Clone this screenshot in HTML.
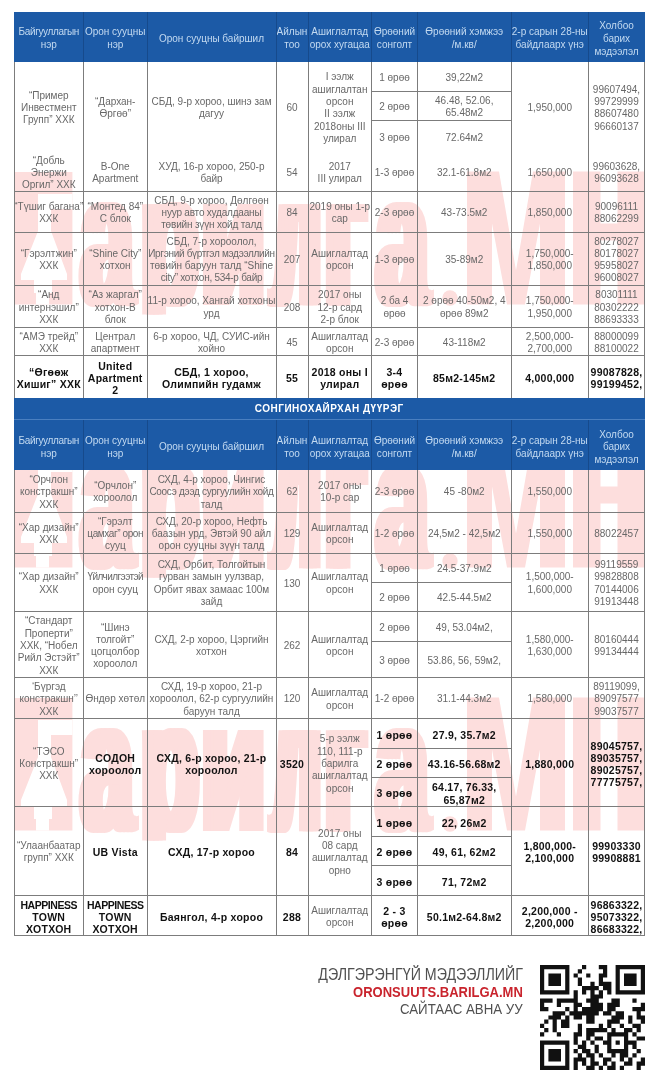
<!DOCTYPE html>
<html><head><meta charset="utf-8"><title>t</title><style>
html,body{margin:0;padding:0;background:#fff}
body{width:657px;height:1080px;position:relative;overflow:hidden;font-family:"Liberation Sans",sans-serif}
.c{filter:blur(0.3px);position:absolute;display:flex;align-items:center;justify-content:center;text-align:center;font-size:10px;line-height:12.3px;color:#686868;white-space:nowrap;box-sizing:border-box}
.c.b{font-weight:bold;color:#111;font-size:10.5px;letter-spacing:0.25px}
.c.h{color:#c3daf1;font-size:10px;line-height:12.7px}
.c.sec{color:#fff;font-weight:bold;font-size:10px;letter-spacing:0.5px}
.c i{font-style:normal}
.hb{position:absolute;background:#1c5aa6}
.hl{position:absolute;height:1px}
.vl{position:absolute;width:1px}
.wm{position:absolute;left:0;top:0}
.wm text{font-family:"Liberation Sans",sans-serif;font-weight:bold;fill:#fddedd}
.ft{position:absolute;right:134px;text-align:right;white-space:nowrap;color:#505050;transform-origin:right center}
</style></head><body>
<svg class="wm" width="657" height="1080" viewBox="0 0 657 1080"><clipPath id="wc526"><rect x="0" y="167.5" width="657" height="147.0"/></clipPath><g clip-path="url(#wc526)"><rect x="14.4" y="172.0" width="58" height="132.5" fill="#fddedd"/><polygon fill="#fff" points="38,194 72.4,194 72.4,209 51,209 51,231 67,274 67,280 52,280 52,293 49,293 49,304.5 36,304.5 36,293 34,293 34,280 21,280 21,274 38,231"/><text transform="translate(75.81,304.5) scale(0.4862,1)" font-size="191">а</text><text transform="translate(79.47,304.5) scale(0.4862,1)" font-size="191">а</text><text transform="translate(83.14,304.5) scale(0.4862,1)" font-size="191">а</text><text transform="translate(86.81,304.5) scale(0.4862,1)" font-size="191">а</text><text transform="translate(135.85,304.5) scale(0.4882,1)" font-size="191">р</text><text transform="translate(139.51,304.5) scale(0.4882,1)" font-size="191">р</text><text transform="translate(143.18,304.5) scale(0.4882,1)" font-size="191">р</text><text transform="translate(146.85,304.5) scale(0.4882,1)" font-size="191">р</text><text transform="translate(195.82,304.5) scale(0.5445,1)" font-size="191">и</text><text transform="translate(199.49,304.5) scale(0.5445,1)" font-size="191">и</text><text transform="translate(203.16,304.5) scale(0.5445,1)" font-size="191">и</text><text transform="translate(206.82,304.5) scale(0.5445,1)" font-size="191">и</text><text transform="translate(266.23,304.5) scale(0.4009,1)" font-size="191">л</text><text transform="translate(269.90,304.5) scale(0.4009,1)" font-size="191">л</text><text transform="translate(273.57,304.5) scale(0.4009,1)" font-size="191">л</text><text transform="translate(277.23,304.5) scale(0.4009,1)" font-size="191">л</text><text transform="translate(319.11,304.5) scale(0.5154,1)" font-size="191">г</text><text transform="translate(322.78,304.5) scale(0.5154,1)" font-size="191">г</text><text transform="translate(326.44,304.5) scale(0.5154,1)" font-size="191">г</text><text transform="translate(330.11,304.5) scale(0.5154,1)" font-size="191">г</text><text transform="translate(371.33,304.5) scale(0.4813,1)" font-size="191">а</text><text transform="translate(375.00,304.5) scale(0.4813,1)" font-size="191">а</text><text transform="translate(378.67,304.5) scale(0.4813,1)" font-size="191">а</text><text transform="translate(382.33,304.5) scale(0.4813,1)" font-size="191">а</text><circle cx="450" cy="298" r="7.7" fill="#fddedd"/><polygon fill="#fddedd" points="467,171.5 499,171.5 516,270.5 533,171.5 565,171.5 565,304.5 540,304.5 540,223.5 525,304.5 507,304.5 492,223.5 492,304.5 467,304.5"/><rect x="573" y="171.5" width="27.5" height="133.0" fill="#fddedd"/><rect x="617.5" y="171.5" width="27.5" height="133.0" fill="#fddedd"/><rect x="573" y="223.5" width="72" height="17" fill="#fddedd"/></g><clipPath id="wc263"><rect x="0" y="430.5" width="657" height="147.0"/></clipPath><g clip-path="url(#wc263)"><rect x="14.4" y="435.0" width="58" height="132.5" fill="#fddedd"/><polygon fill="#fff" points="38,457 72.4,457 72.4,472 51,472 51,494 67,537 67,543 52,543 52,556 49,556 49,567.5 36,567.5 36,556 34,556 34,543 21,543 21,537 38,494"/><text transform="translate(75.81,567.5) scale(0.4862,1)" font-size="191">а</text><text transform="translate(79.47,567.5) scale(0.4862,1)" font-size="191">а</text><text transform="translate(83.14,567.5) scale(0.4862,1)" font-size="191">а</text><text transform="translate(86.81,567.5) scale(0.4862,1)" font-size="191">а</text><text transform="translate(135.85,567.5) scale(0.4882,1)" font-size="191">р</text><text transform="translate(139.51,567.5) scale(0.4882,1)" font-size="191">р</text><text transform="translate(143.18,567.5) scale(0.4882,1)" font-size="191">р</text><text transform="translate(146.85,567.5) scale(0.4882,1)" font-size="191">р</text><text transform="translate(195.82,567.5) scale(0.5445,1)" font-size="191">и</text><text transform="translate(199.49,567.5) scale(0.5445,1)" font-size="191">и</text><text transform="translate(203.16,567.5) scale(0.5445,1)" font-size="191">и</text><text transform="translate(206.82,567.5) scale(0.5445,1)" font-size="191">и</text><text transform="translate(266.23,567.5) scale(0.4009,1)" font-size="191">л</text><text transform="translate(269.90,567.5) scale(0.4009,1)" font-size="191">л</text><text transform="translate(273.57,567.5) scale(0.4009,1)" font-size="191">л</text><text transform="translate(277.23,567.5) scale(0.4009,1)" font-size="191">л</text><text transform="translate(319.11,567.5) scale(0.5154,1)" font-size="191">г</text><text transform="translate(322.78,567.5) scale(0.5154,1)" font-size="191">г</text><text transform="translate(326.44,567.5) scale(0.5154,1)" font-size="191">г</text><text transform="translate(330.11,567.5) scale(0.5154,1)" font-size="191">г</text><text transform="translate(371.33,567.5) scale(0.4813,1)" font-size="191">а</text><text transform="translate(375.00,567.5) scale(0.4813,1)" font-size="191">а</text><text transform="translate(378.67,567.5) scale(0.4813,1)" font-size="191">а</text><text transform="translate(382.33,567.5) scale(0.4813,1)" font-size="191">а</text><circle cx="450" cy="561" r="7.7" fill="#fddedd"/><polygon fill="#fddedd" points="467,434.5 499,434.5 516,533.5 533,434.5 565,434.5 565,567.5 540,567.5 540,486.5 525,567.5 507,567.5 492,486.5 492,567.5 467,567.5"/><rect x="573" y="434.5" width="27.5" height="133.0" fill="#fddedd"/><rect x="617.5" y="434.5" width="27.5" height="133.0" fill="#fddedd"/><rect x="573" y="486.5" width="72" height="17" fill="#fddedd"/></g><clipPath id="wc0"><rect x="0" y="693.5" width="657" height="147.0"/></clipPath><g clip-path="url(#wc0)"><rect x="14.4" y="698.0" width="58" height="132.5" fill="#fddedd"/><polygon fill="#fff" points="38,720 72.4,720 72.4,735 51,735 51,757 67,800 67,806 52,806 52,819 49,819 49,830.5 36,830.5 36,819 34,819 34,806 21,806 21,800 38,757"/><text transform="translate(75.81,830.5) scale(0.4862,1)" font-size="191">а</text><text transform="translate(79.47,830.5) scale(0.4862,1)" font-size="191">а</text><text transform="translate(83.14,830.5) scale(0.4862,1)" font-size="191">а</text><text transform="translate(86.81,830.5) scale(0.4862,1)" font-size="191">а</text><text transform="translate(135.85,830.5) scale(0.4882,1)" font-size="191">р</text><text transform="translate(139.51,830.5) scale(0.4882,1)" font-size="191">р</text><text transform="translate(143.18,830.5) scale(0.4882,1)" font-size="191">р</text><text transform="translate(146.85,830.5) scale(0.4882,1)" font-size="191">р</text><text transform="translate(195.82,830.5) scale(0.5445,1)" font-size="191">и</text><text transform="translate(199.49,830.5) scale(0.5445,1)" font-size="191">и</text><text transform="translate(203.16,830.5) scale(0.5445,1)" font-size="191">и</text><text transform="translate(206.82,830.5) scale(0.5445,1)" font-size="191">и</text><text transform="translate(266.23,830.5) scale(0.4009,1)" font-size="191">л</text><text transform="translate(269.90,830.5) scale(0.4009,1)" font-size="191">л</text><text transform="translate(273.57,830.5) scale(0.4009,1)" font-size="191">л</text><text transform="translate(277.23,830.5) scale(0.4009,1)" font-size="191">л</text><text transform="translate(319.11,830.5) scale(0.5154,1)" font-size="191">г</text><text transform="translate(322.78,830.5) scale(0.5154,1)" font-size="191">г</text><text transform="translate(326.44,830.5) scale(0.5154,1)" font-size="191">г</text><text transform="translate(330.11,830.5) scale(0.5154,1)" font-size="191">г</text><text transform="translate(371.33,830.5) scale(0.4813,1)" font-size="191">а</text><text transform="translate(375.00,830.5) scale(0.4813,1)" font-size="191">а</text><text transform="translate(378.67,830.5) scale(0.4813,1)" font-size="191">а</text><text transform="translate(382.33,830.5) scale(0.4813,1)" font-size="191">а</text><circle cx="450" cy="824" r="7.7" fill="#fddedd"/><polygon fill="#fddedd" points="467,697.5 499,697.5 516,796.5 533,697.5 565,697.5 565,830.5 540,830.5 540,749.5 525,830.5 507,830.5 492,749.5 492,830.5 467,830.5"/><rect x="573" y="697.5" width="27.5" height="133.0" fill="#fddedd"/><rect x="617.5" y="697.5" width="27.5" height="133.0" fill="#fddedd"/><rect x="573" y="749.5" width="72" height="17" fill="#fddedd"/></g></svg>
<!--WMCLIP-->
<div class="hb" style="left:14px;top:11.5px;width:630.5px;height:50.0px"></div><div class="c h" style="left:14px;top:14.2px;width:69.5px;height:50.0px"><span><i style="letter-spacing:-0.35px">Байгууллагын</i><br>нэр</span></div><div class="c h" style="left:83.5px;top:14.2px;width:63.5px;height:50.0px"><span>Орон сууцны<br>нэр</span></div><div class="c h" style="left:147px;top:14.2px;width:129px;height:50.0px"><span>Орон сууцны байршил</span></div><div class="c h" style="left:276px;top:14.2px;width:32px;height:50.0px"><span>Айлын<br>тоо</span></div><div class="c h" style="left:308px;top:14.2px;width:63.5px;height:50.0px"><span>Ашиглалтад<br>орох хугацаа</span></div><div class="c h" style="left:371.5px;top:14.2px;width:46.0px;height:50.0px"><span>Өрөөний<br>сонголт</span></div><div class="c h" style="left:417.5px;top:14.2px;width:93.5px;height:50.0px"><span>Өрөөний хэмжээ<br>/м.кв/</span></div><div class="c h" style="left:511px;top:14.2px;width:77.5px;height:50.0px"><span>2-р сарын 28-ны<br>байдлаарх үнэ</span></div><div class="c h" style="left:588.5px;top:14.2px;width:56.0px;height:50.0px"><span>Холбоо<br>барих<br>мэдээлэл</span></div><div class="vl" style="left:83.0px;top:11.5px;height:50.0px;background:#164a8c"></div><div class="vl" style="left:146.5px;top:11.5px;height:50.0px;background:#164a8c"></div><div class="vl" style="left:275.5px;top:11.5px;height:50.0px;background:#164a8c"></div><div class="vl" style="left:307.5px;top:11.5px;height:50.0px;background:#164a8c"></div><div class="vl" style="left:371.0px;top:11.5px;height:50.0px;background:#164a8c"></div><div class="vl" style="left:417.0px;top:11.5px;height:50.0px;background:#164a8c"></div><div class="vl" style="left:510.5px;top:11.5px;height:50.0px;background:#164a8c"></div><div class="vl" style="left:588.0px;top:11.5px;height:50.0px;background:#164a8c"></div><div class="c " style="left:14px;top:63.0px;width:69.5px;height:90.5px"><span>“Пример<br>Инвестмент<br>Групп” ХХК</span></div><div class="c " style="left:83.5px;top:63.0px;width:63.5px;height:90.5px"><span>“Дархан-<br>Өргөө”</span></div><div class="c " style="left:147px;top:63.0px;width:129px;height:90.5px"><span>СБД, 9-р хороо, шинэ зам<br>дагуу</span></div><div class="c " style="left:276px;top:63.0px;width:32px;height:90.5px"><span>60</span></div><div class="c " style="left:308px;top:63.0px;width:63.5px;height:90.5px"><span>I ээлж<br>ашиглалтан<br>орсон<br>II ээлж<br>2018оны III<br>улирал</span></div><div class="c " style="left:371.5px;top:63.0px;width:46.0px;height:29.5px"><span>1 өрөө</span></div><div class="c " style="left:371.5px;top:92.5px;width:46.0px;height:29.5px"><span>2 өрөө</span></div><div class="c " style="left:371.5px;top:122.0px;width:46.0px;height:31.5px"><span>3 өрөө</span></div><div class="c " style="left:417.5px;top:63.0px;width:93.5px;height:29.5px"><span>39,22м2</span></div><div class="c " style="left:417.5px;top:92.5px;width:93.5px;height:29.5px"><span>46.48, 52.06,<br>65.48м2</span></div><div class="c " style="left:417.5px;top:122.0px;width:93.5px;height:31.5px"><span>72.64м2</span></div><div class="c " style="left:511px;top:63.0px;width:77.5px;height:90.5px"><span>1,950,000</span></div><div class="c " style="left:588.5px;top:63.0px;width:56.0px;height:90.5px"><span>99607494,<br>99729999<br>88607480<br>96660137</span></div><div class="hl" style="left:371.5px;top:90.5px;width:139.5px;background:#7c7c7c"></div><div class="hl" style="left:371.5px;top:120.0px;width:139.5px;background:#7c7c7c"></div><div class="c " style="left:14px;top:153.5px;width:69.5px;height:39.30000000000001px"><span>“Добль<br>Энержи<br>Оргил” ХХК</span></div><div class="c " style="left:83.5px;top:153.5px;width:63.5px;height:39.30000000000001px"><span>B-One<br>Apartment</span></div><div class="c " style="left:147px;top:153.5px;width:129px;height:39.30000000000001px"><span>ХУД, 16-р хороо, 250-р<br>байр</span></div><div class="c " style="left:276px;top:153.5px;width:32px;height:39.30000000000001px"><span>54</span></div><div class="c " style="left:308px;top:153.5px;width:63.5px;height:39.30000000000001px"><span>2017<br>III улирал</span></div><div class="c " style="left:371.5px;top:153.5px;width:46.0px;height:39.30000000000001px"><span>1-3 өрөө</span></div><div class="c " style="left:417.5px;top:153.5px;width:93.5px;height:39.30000000000001px"><span>32.1-61.8м2</span></div><div class="c " style="left:511px;top:153.5px;width:77.5px;height:39.30000000000001px"><span>1,650,000</span></div><div class="c " style="left:588.5px;top:153.5px;width:56.0px;height:39.30000000000001px"><span>99603628,<br>96093628</span></div><div class="c " style="left:14px;top:192.8px;width:69.5px;height:40.69999999999999px"><span>“Түшиг багана”<br>ХХК</span></div><div class="c " style="left:83.5px;top:192.8px;width:63.5px;height:40.69999999999999px"><span>“Монтед 84”<br>С блок</span></div><div class="c " style="left:147px;top:192.8px;width:129px;height:40.69999999999999px"><span>СБД, 9-р хороо, Дөлгөөн<br><i style="letter-spacing:-0.2px">нуур авто худалдааны</i><br><i style="letter-spacing:-0.17px">төвийн зүүн хойд талд</i></span></div><div class="c " style="left:276px;top:192.8px;width:32px;height:40.69999999999999px"><span>84</span></div><div class="c " style="left:308px;top:192.8px;width:63.5px;height:40.69999999999999px"><span>2019 оны 1-р<br>сар</span></div><div class="c " style="left:371.5px;top:192.8px;width:46.0px;height:40.69999999999999px"><span>2-3 өрөө</span></div><div class="c " style="left:417.5px;top:192.8px;width:93.5px;height:40.69999999999999px"><span>43-73.5м2</span></div><div class="c " style="left:511px;top:192.8px;width:77.5px;height:40.69999999999999px"><span>1,850,000</span></div><div class="c " style="left:588.5px;top:192.8px;width:56.0px;height:40.69999999999999px"><span>90096111<br>88062299</span></div><div class="hl" style="left:14px;top:190.8px;width:630.5px;background:#7c7c7c"></div><div class="c " style="left:14px;top:233.5px;width:69.5px;height:53.19999999999999px"><span>“Гэрэлтжин”<br>ХХК</span></div><div class="c " style="left:83.5px;top:233.5px;width:63.5px;height:53.19999999999999px"><span>“Shine City”<br>хотхон</span></div><div class="c " style="left:147px;top:233.5px;width:129px;height:53.19999999999999px"><span>СБД, 7-р хороолол,<br><i style="letter-spacing:-0.32px">Иргэний бүртгэл мэдээллийн</i><br>төвийн баруун талд “Shine<br><i style="letter-spacing:-0.27px">city” хотхон, 534-р байр</i></span></div><div class="c " style="left:276px;top:233.5px;width:32px;height:53.19999999999999px"><span>207</span></div><div class="c " style="left:308px;top:233.5px;width:63.5px;height:53.19999999999999px"><span>Ашиглалтад<br>орсон</span></div><div class="c " style="left:371.5px;top:233.5px;width:46.0px;height:53.19999999999999px"><span>1-3 өрөө</span></div><div class="c " style="left:417.5px;top:233.5px;width:93.5px;height:53.19999999999999px"><span>35-89м2</span></div><div class="c " style="left:511px;top:233.5px;width:77.5px;height:53.19999999999999px"><span>1,750,000-<br>1,850,000</span></div><div class="c " style="left:588.5px;top:233.5px;width:56.0px;height:53.19999999999999px"><span>80278027<br>80178027<br>95958027<br>96008027</span></div><div class="hl" style="left:14px;top:231.5px;width:630.5px;background:#7c7c7c"></div><div class="c " style="left:14px;top:286.7px;width:69.5px;height:42.19999999999999px"><span>“Анд<br>интернэшил”<br>ХХК</span></div><div class="c " style="left:83.5px;top:286.7px;width:63.5px;height:42.19999999999999px"><span>“Аз жаргал”<br>хотхон-В<br>блок</span></div><div class="c " style="left:147px;top:286.7px;width:129px;height:42.19999999999999px"><span>11-р хороо, Хангай хотхоны<br>урд</span></div><div class="c " style="left:276px;top:286.7px;width:32px;height:42.19999999999999px"><span>208</span></div><div class="c " style="left:308px;top:286.7px;width:63.5px;height:42.19999999999999px"><span>2017 оны<br>12-р сард<br>2-р блок</span></div><div class="c " style="left:371.5px;top:286.7px;width:46.0px;height:42.19999999999999px"><span>2 ба 4<br>өрөө</span></div><div class="c " style="left:417.5px;top:286.7px;width:93.5px;height:42.19999999999999px"><span>2 өрөө 40-50м2, 4<br>өрөө 89м2</span></div><div class="c " style="left:511px;top:286.7px;width:77.5px;height:42.19999999999999px"><span>1,750,000-<br>1,950,000</span></div><div class="c " style="left:588.5px;top:286.7px;width:56.0px;height:42.19999999999999px"><span>80301111<br>80302222<br>88693333</span></div><div class="hl" style="left:14px;top:284.7px;width:630.5px;background:#7c7c7c"></div><div class="c " style="left:14px;top:328.9px;width:69.5px;height:28.5px"><span>“АМЭ трейд”<br>ХХК</span></div><div class="c " style="left:83.5px;top:328.9px;width:63.5px;height:28.5px"><span>Централ<br>апартмент</span></div><div class="c " style="left:147px;top:328.9px;width:129px;height:28.5px"><span>6-р хороо, ЧД, СУИС-ийн<br>хойно</span></div><div class="c " style="left:276px;top:328.9px;width:32px;height:28.5px"><span>45</span></div><div class="c " style="left:308px;top:328.9px;width:63.5px;height:28.5px"><span>Ашиглалтад<br>орсон</span></div><div class="c " style="left:371.5px;top:328.9px;width:46.0px;height:28.5px"><span>2-3 өрөө</span></div><div class="c " style="left:417.5px;top:328.9px;width:93.5px;height:28.5px"><span>43-118м2</span></div><div class="c " style="left:511px;top:328.9px;width:77.5px;height:28.5px"><span>2,500,000-<br>2,700,000</span></div><div class="c " style="left:588.5px;top:328.9px;width:56.0px;height:28.5px"><span>88000099<br>88100022</span></div><div class="hl" style="left:14px;top:326.9px;width:630.5px;background:#7c7c7c"></div><div class="c b" style="left:14px;top:357.4px;width:69.5px;height:41.700000000000045px"><span>“Өгөөж<br>Хишиг” ХХК</span></div><div class="c b" style="left:83.5px;top:357.4px;width:63.5px;height:41.700000000000045px"><span>United<br>Apartment<br>2</span></div><div class="c b" style="left:147px;top:357.4px;width:129px;height:41.700000000000045px"><span>СБД, 1 хороо,<br>Олимпийн гудамж</span></div><div class="c b" style="left:276px;top:357.4px;width:32px;height:41.700000000000045px"><span>55</span></div><div class="c b" style="left:308px;top:357.4px;width:63.5px;height:41.700000000000045px"><span>2018 оны I<br>улирал</span></div><div class="c b" style="left:371.5px;top:357.4px;width:46.0px;height:41.700000000000045px"><span>3-4<br>өрөө</span></div><div class="c b" style="left:417.5px;top:357.4px;width:93.5px;height:41.700000000000045px"><span>85м2-145м2</span></div><div class="c b" style="left:511px;top:357.4px;width:77.5px;height:41.700000000000045px"><span>4,000,000</span></div><div class="c b" style="left:588.5px;top:357.4px;width:56.0px;height:41.700000000000045px"><span>99087828,<br>99199452,</span></div><div class="hl" style="left:14px;top:355.4px;width:630.5px;background:#7c7c7c"></div><div class="hb" style="left:14px;top:397.6px;width:630.5px;height:22.6px"></div><div class="c sec" style="left:14px;top:398.1px;width:630.5px;height:22.399999999999977px"><span>СОНГИНОХАЙРХАН ДҮҮРЭГ</span></div><div class="hl" style="left:14px;top:419.2px;width:630.5px;background:#4a7fc0"></div><div class="hb" style="left:14px;top:420.2px;width:630.5px;height:49.400000000000034px"></div><div class="c h" style="left:14px;top:422.9px;width:69.5px;height:49.400000000000034px"><span><i style="letter-spacing:-0.35px">Байгууллагын</i><br>нэр</span></div><div class="c h" style="left:83.5px;top:422.9px;width:63.5px;height:49.400000000000034px"><span>Орон сууцны<br>нэр</span></div><div class="c h" style="left:147px;top:422.9px;width:129px;height:49.400000000000034px"><span>Орон сууцны байршил</span></div><div class="c h" style="left:276px;top:422.9px;width:32px;height:49.400000000000034px"><span>Айлын<br>тоо</span></div><div class="c h" style="left:308px;top:422.9px;width:63.5px;height:49.400000000000034px"><span>Ашиглалтад<br>орох хугацаа</span></div><div class="c h" style="left:371.5px;top:422.9px;width:46.0px;height:49.400000000000034px"><span>Өрөөний<br>сонголт</span></div><div class="c h" style="left:417.5px;top:422.9px;width:93.5px;height:49.400000000000034px"><span>Өрөөний хэмжээ<br>/м.кв/</span></div><div class="c h" style="left:511px;top:422.9px;width:77.5px;height:49.400000000000034px"><span>2-р сарын 28-ны<br>байдлаарх үнэ</span></div><div class="c h" style="left:588.5px;top:422.9px;width:56.0px;height:49.400000000000034px"><span>Холбоо<br>барих<br>мэдээлэл</span></div><div class="vl" style="left:83.0px;top:420.2px;height:49.400000000000034px;background:#164a8c"></div><div class="vl" style="left:146.5px;top:420.2px;height:49.400000000000034px;background:#164a8c"></div><div class="vl" style="left:275.5px;top:420.2px;height:49.400000000000034px;background:#164a8c"></div><div class="vl" style="left:307.5px;top:420.2px;height:49.400000000000034px;background:#164a8c"></div><div class="vl" style="left:371.0px;top:420.2px;height:49.400000000000034px;background:#164a8c"></div><div class="vl" style="left:417.0px;top:420.2px;height:49.400000000000034px;background:#164a8c"></div><div class="vl" style="left:510.5px;top:420.2px;height:49.400000000000034px;background:#164a8c"></div><div class="vl" style="left:588.0px;top:420.2px;height:49.400000000000034px;background:#164a8c"></div><div class="c " style="left:14px;top:471.1px;width:69.5px;height:42.799999999999955px"><span>“Орчлон<br>констракшн”<br>ХХК</span></div><div class="c " style="left:83.5px;top:471.1px;width:63.5px;height:42.799999999999955px"><span>“Орчлон”<br>хороолол</span></div><div class="c " style="left:147px;top:471.1px;width:129px;height:42.799999999999955px"><span>СХД, 4-р хороо, Чингис<br><i style="letter-spacing:-0.3px">Соосэ дээд сургуулийн хойд</i><br>талд</span></div><div class="c " style="left:276px;top:471.1px;width:32px;height:42.799999999999955px"><span>62</span></div><div class="c " style="left:308px;top:471.1px;width:63.5px;height:42.799999999999955px"><span>2017 оны<br>10-р сар</span></div><div class="c " style="left:371.5px;top:471.1px;width:46.0px;height:42.799999999999955px"><span>2-3 өрөө</span></div><div class="c " style="left:417.5px;top:471.1px;width:93.5px;height:42.799999999999955px"><span>45 -80м2</span></div><div class="c " style="left:511px;top:471.1px;width:77.5px;height:42.799999999999955px"><span>1,550,000</span></div><div class="c " style="left:588.5px;top:471.1px;width:56.0px;height:42.799999999999955px"><span></span></div><div class="c " style="left:14px;top:513.9px;width:69.5px;height:40.60000000000002px"><span>“Хар дизайн”<br>ХХК</span></div><div class="c " style="left:83.5px;top:513.9px;width:63.5px;height:40.60000000000002px"><span>“Гэрэлт<br><i style="letter-spacing:-0.4px">цамхаг” орон</i><br>сууц</span></div><div class="c " style="left:147px;top:513.9px;width:129px;height:40.60000000000002px"><span>СХД, 20-р хороо, Нефть<br>баазын урд, Эвтэй 90 айл<br>орон сууцны зүүн талд</span></div><div class="c " style="left:276px;top:513.9px;width:32px;height:40.60000000000002px"><span>129</span></div><div class="c " style="left:308px;top:513.9px;width:63.5px;height:40.60000000000002px"><span>Ашиглалтад<br>орсон</span></div><div class="c " style="left:371.5px;top:513.9px;width:46.0px;height:40.60000000000002px"><span>1-2 өрөө</span></div><div class="c " style="left:417.5px;top:513.9px;width:93.5px;height:40.60000000000002px"><span>24,5м2 - 42,5м2</span></div><div class="c " style="left:511px;top:513.9px;width:77.5px;height:40.60000000000002px"><span>1,550,000</span></div><div class="c " style="left:588.5px;top:513.9px;width:56.0px;height:40.60000000000002px"><span>88022457</span></div><div class="hl" style="left:14px;top:511.9px;width:630.5px;background:#7c7c7c"></div><div class="c " style="left:14px;top:554.5px;width:69.5px;height:58.5px"><span>“Хар дизайн”<br>ХХК</span></div><div class="c " style="left:83.5px;top:554.5px;width:63.5px;height:58.5px"><span><i style="letter-spacing:-0.55px">Үйлчилгээтэй</i><br>орон сууц</span></div><div class="c " style="left:147px;top:554.5px;width:129px;height:58.5px"><span>СХД, Орбит, Толгойтын<br>гурван замын уулзвар,<br>Орбит явах замаас 100м<br>зайд</span></div><div class="c " style="left:276px;top:554.5px;width:32px;height:58.5px"><span>130</span></div><div class="c " style="left:308px;top:554.5px;width:63.5px;height:58.5px"><span>Ашиглалтад<br>орсон</span></div><div class="c " style="left:371.5px;top:554.5px;width:46.0px;height:29px"><span>1 өрөө</span></div><div class="c " style="left:371.5px;top:583.5px;width:46.0px;height:29.5px"><span>2 өрөө</span></div><div class="c " style="left:417.5px;top:554.5px;width:93.5px;height:29px"><span>24.5-37.9м2</span></div><div class="c " style="left:417.5px;top:583.5px;width:93.5px;height:29.5px"><span>42.5-44.5м2</span></div><div class="c " style="left:511px;top:554.5px;width:77.5px;height:58.5px"><span>1,500,000-<br>1,600,000</span></div><div class="c " style="left:588.5px;top:554.5px;width:56.0px;height:58.5px"><span>99119559<br>99828808<br>70144006<br>91913448</span></div><div class="hl" style="left:371.5px;top:581.5px;width:139.5px;background:#7c7c7c"></div><div class="hl" style="left:14px;top:552.5px;width:630.5px;background:#7c7c7c"></div><div class="c " style="left:14px;top:613.0px;width:69.5px;height:66.29999999999995px"><span>“Стандарт<br>Проперти”<br>ХХК, “Нобел<br>Рийл Эстэйт”<br>ХХК</span></div><div class="c " style="left:83.5px;top:613.0px;width:63.5px;height:66.29999999999995px"><span>“Шинэ<br>толгойт”<br>цогцолбор<br>хороолол</span></div><div class="c " style="left:147px;top:613.0px;width:129px;height:66.29999999999995px"><span>СХД, 2-р хороо, Цэргийн<br>хотхон</span></div><div class="c " style="left:276px;top:613.0px;width:32px;height:66.29999999999995px"><span>262</span></div><div class="c " style="left:308px;top:613.0px;width:63.5px;height:66.29999999999995px"><span>Ашиглалтад<br>орсон</span></div><div class="c " style="left:371.5px;top:613.0px;width:46.0px;height:29.5px"><span>2 өрөө</span></div><div class="c " style="left:371.5px;top:642.5px;width:46.0px;height:36.799999999999955px"><span>3 өрөө</span></div><div class="c " style="left:417.5px;top:613.0px;width:93.5px;height:29.5px"><span>49, 53.04м2,</span></div><div class="c " style="left:417.5px;top:642.5px;width:93.5px;height:36.799999999999955px"><span>53.86, 56, 59м2,</span></div><div class="c " style="left:511px;top:613.0px;width:77.5px;height:66.29999999999995px"><span>1,580,000-<br>1,630,000</span></div><div class="c " style="left:588.5px;top:613.0px;width:56.0px;height:66.29999999999995px"><span>80160444<br>99134444</span></div><div class="hl" style="left:371.5px;top:640.5px;width:139.5px;background:#7c7c7c"></div><div class="hl" style="left:14px;top:611.0px;width:630.5px;background:#7c7c7c"></div><div class="c " style="left:14px;top:679.3px;width:69.5px;height:40.700000000000045px"><span>‘Бүргэд<br>констракшн’’<br>ХХК</span></div><div class="c " style="left:83.5px;top:679.3px;width:63.5px;height:40.700000000000045px"><span>Өндөр хөтөл</span></div><div class="c " style="left:147px;top:679.3px;width:129px;height:40.700000000000045px"><span>СХД, 19-р хороо, 21-р<br>хороолол, 62-р сургуулийн<br>баруун талд</span></div><div class="c " style="left:276px;top:679.3px;width:32px;height:40.700000000000045px"><span>120</span></div><div class="c " style="left:308px;top:679.3px;width:63.5px;height:40.700000000000045px"><span>Ашиглалтад<br>орсон</span></div><div class="c " style="left:371.5px;top:679.3px;width:46.0px;height:40.700000000000045px"><span>1-2 өрөө</span></div><div class="c " style="left:417.5px;top:679.3px;width:93.5px;height:40.700000000000045px"><span>31.1-44.3м2</span></div><div class="c " style="left:511px;top:679.3px;width:77.5px;height:40.700000000000045px"><span>1,580,000</span></div><div class="c " style="left:588.5px;top:679.3px;width:56.0px;height:40.700000000000045px"><span>89119099,<br>89097577<br>99037577</span></div><div class="hl" style="left:14px;top:677.3px;width:630.5px;background:#7c7c7c"></div><div class="c " style="left:14px;top:720.0px;width:69.5px;height:88.20000000000005px"><span>“ТЭСО<br>Констракшн”<br>ХХК</span></div><div class="c b" style="left:83.5px;top:720.0px;width:63.5px;height:88.20000000000005px"><span>СОДОН<br>хороолол</span></div><div class="c b" style="left:147px;top:720.0px;width:129px;height:88.20000000000005px"><span>СХД, 6-р хороо, 21-р<br>хороолол</span></div><div class="c b" style="left:276px;top:720.0px;width:32px;height:88.20000000000005px"><span>3520</span></div><div class="c " style="left:308px;top:720.0px;width:63.5px;height:88.20000000000005px"><span>5-р ээлж<br>110, 111-р<br>барилга<br>ашиглалтад<br>орсон</span></div><div class="c b" style="left:371.5px;top:720.0px;width:46.0px;height:29.5px"><span>1 өрөө</span></div><div class="c b" style="left:371.5px;top:749.5px;width:46.0px;height:29.399999999999977px"><span>2 өрөө</span></div><div class="c b" style="left:371.5px;top:778.9px;width:46.0px;height:29.300000000000068px"><span>3 өрөө</span></div><div class="c b" style="left:417.5px;top:720.0px;width:93.5px;height:29.5px"><span>27.9, 35.7м2</span></div><div class="c b" style="left:417.5px;top:749.5px;width:93.5px;height:29.399999999999977px"><span>43.16-56.68м2</span></div><div class="c b" style="left:417.5px;top:778.9px;width:93.5px;height:29.300000000000068px"><span>64.17, 76.33,<br>65,87м2</span></div><div class="c b" style="left:511px;top:720.0px;width:77.5px;height:88.20000000000005px"><span>1,880,000</span></div><div class="c b" style="left:588.5px;top:720.0px;width:56.0px;height:88.20000000000005px"><span>89045757,<br>89035757,<br>89025757,<br>77775757,</span></div><div class="hl" style="left:371.5px;top:747.5px;width:139.5px;background:#7c7c7c"></div><div class="hl" style="left:371.5px;top:776.9px;width:139.5px;background:#7c7c7c"></div><div class="hl" style="left:14px;top:718.0px;width:630.5px;background:#7c7c7c"></div><div class="c " style="left:14px;top:808.2px;width:69.5px;height:88.5px"><span>“Улаанбаатар<br>групп” ХХК</span></div><div class="c b" style="left:83.5px;top:808.2px;width:63.5px;height:88.5px"><span>UB Vista</span></div><div class="c b" style="left:147px;top:808.2px;width:129px;height:88.5px"><span>СХД, 17-р хороо</span></div><div class="c b" style="left:276px;top:808.2px;width:32px;height:88.5px"><span>84</span></div><div class="c " style="left:308px;top:808.2px;width:63.5px;height:88.5px"><span>2017 оны<br>08 сард<br>ашиглалтад<br>орно</span></div><div class="c b" style="left:371.5px;top:808.2px;width:46.0px;height:29.59999999999991px"><span>1 өрөө</span></div><div class="c b" style="left:371.5px;top:837.8px;width:46.0px;height:29.300000000000068px"><span>2 өрөө</span></div><div class="c b" style="left:371.5px;top:867.1px;width:46.0px;height:29.600000000000023px"><span>3 өрөө</span></div><div class="c b" style="left:417.5px;top:808.2px;width:93.5px;height:29.59999999999991px"><span>22, 26м2</span></div><div class="c b" style="left:417.5px;top:837.8px;width:93.5px;height:29.300000000000068px"><span>49, 61, 62м2</span></div><div class="c b" style="left:417.5px;top:867.1px;width:93.5px;height:29.600000000000023px"><span>71, 72м2</span></div><div class="c b" style="left:511px;top:808.2px;width:77.5px;height:88.5px"><span>1,800,000-<br>2,100,000</span></div><div class="c b" style="left:588.5px;top:808.2px;width:56.0px;height:88.5px"><span>99903330<br>99908881</span></div><div class="hl" style="left:371.5px;top:835.8px;width:139.5px;background:#7c7c7c"></div><div class="hl" style="left:371.5px;top:865.1px;width:139.5px;background:#7c7c7c"></div><div class="hl" style="left:14px;top:806.2px;width:630.5px;background:#7c7c7c"></div><div class="c b" style="left:14px;top:896.7px;width:69.5px;height:40.69999999999993px"><span><i style="letter-spacing:-0.45px">HAPPINESS</i><br>TOWN<br>ХОТХОН</span></div><div class="c b" style="left:83.5px;top:896.7px;width:63.5px;height:40.69999999999993px"><span><i style="letter-spacing:-0.45px">HAPPINESS</i><br>TOWN<br>ХОТХОН</span></div><div class="c b" style="left:147px;top:896.7px;width:129px;height:40.69999999999993px"><span>Баянгол, 4-р хороо</span></div><div class="c b" style="left:276px;top:896.7px;width:32px;height:40.69999999999993px"><span>288</span></div><div class="c " style="left:308px;top:896.7px;width:63.5px;height:40.69999999999993px"><span>Ашиглалтад<br>орсон</span></div><div class="c b" style="left:371.5px;top:896.7px;width:46.0px;height:40.69999999999993px"><span>2 - 3<br>өрөө</span></div><div class="c b" style="left:417.5px;top:896.7px;width:93.5px;height:40.69999999999993px"><span>50.1м2-64.8м2</span></div><div class="c b" style="left:511px;top:896.7px;width:77.5px;height:40.69999999999993px"><span>2,200,000 -<br>2,200,000</span></div><div class="c b" style="left:588.5px;top:896.7px;width:56.0px;height:40.69999999999993px"><span>96863322,<br>95073322,<br>86683322,</span></div><div class="hl" style="left:14px;top:894.7px;width:630.5px;background:#7c7c7c"></div><div class="hl" style="left:14px;top:935.4px;width:630.5px;background:#7c7c7c"></div><div class="vl" style="left:13.5px;top:61.5px;height:336.1px;background:#7c7c7c"></div><div class="vl" style="left:13.5px;top:469.6px;height:466.29999999999995px;background:#7c7c7c"></div><div class="vl" style="left:83.0px;top:61.5px;height:336.1px;background:#7c7c7c"></div><div class="vl" style="left:83.0px;top:469.6px;height:466.29999999999995px;background:#7c7c7c"></div><div class="vl" style="left:146.5px;top:61.5px;height:336.1px;background:#7c7c7c"></div><div class="vl" style="left:146.5px;top:469.6px;height:466.29999999999995px;background:#7c7c7c"></div><div class="vl" style="left:275.5px;top:61.5px;height:336.1px;background:#7c7c7c"></div><div class="vl" style="left:275.5px;top:469.6px;height:466.29999999999995px;background:#7c7c7c"></div><div class="vl" style="left:307.5px;top:61.5px;height:336.1px;background:#7c7c7c"></div><div class="vl" style="left:307.5px;top:469.6px;height:466.29999999999995px;background:#7c7c7c"></div><div class="vl" style="left:371.0px;top:61.5px;height:336.1px;background:#7c7c7c"></div><div class="vl" style="left:371.0px;top:469.6px;height:466.29999999999995px;background:#7c7c7c"></div><div class="vl" style="left:417.0px;top:61.5px;height:336.1px;background:#7c7c7c"></div><div class="vl" style="left:417.0px;top:469.6px;height:466.29999999999995px;background:#7c7c7c"></div><div class="vl" style="left:510.5px;top:61.5px;height:336.1px;background:#7c7c7c"></div><div class="vl" style="left:510.5px;top:469.6px;height:466.29999999999995px;background:#7c7c7c"></div><div class="vl" style="left:588.0px;top:61.5px;height:336.1px;background:#7c7c7c"></div><div class="vl" style="left:588.0px;top:469.6px;height:466.29999999999995px;background:#7c7c7c"></div><div class="vl" style="left:644.0px;top:61.5px;height:336.1px;background:#7c7c7c"></div><div class="vl" style="left:644.0px;top:469.6px;height:466.29999999999995px;background:#7c7c7c"></div>

<div class="ft" style="top:965px;font-size:16px;line-height:20px;transform:scaleX(0.89)">ДЭЛГЭРЭНГҮЙ МЭДЭЭЛЛИЙГ</div>
<div class="ft" style="top:982px;font-size:15px;line-height:20px;color:#c9242d;font-weight:bold;transform:scaleX(0.867)">ORONSUUTS.BARILGA.MN</div>
<div class="ft" style="top:999px;font-size:15px;line-height:20px;transform:scaleX(0.885)">САЙТААС АВНА УУ</div>

<svg style="position:absolute;left:540px;top:965px" width="105" height="105" viewBox="0 0 105 105"><path fill="#111" d="M0.00 0.00h29.40v4.20h-29.40zM42.00 0.00h4.20v4.20h-4.20zM58.80 0.00h8.40v4.20h-8.40zM75.60 0.00h29.40v4.20h-29.40zM0.00 4.20h4.20v4.20h-4.20zM25.20 4.20h4.20v4.20h-4.20zM37.80 4.20h4.20v4.20h-4.20zM63.00 4.20h4.20v4.20h-4.20zM75.60 4.20h4.20v4.20h-4.20zM100.80 4.20h4.20v4.20h-4.20zM0.00 8.40h4.20v4.20h-4.20zM8.40 8.40h12.60v4.20h-12.60zM25.20 8.40h4.20v4.20h-4.20zM33.60 8.40h4.20v4.20h-4.20zM46.20 8.40h4.20v4.20h-4.20zM58.80 8.40h8.40v4.20h-8.40zM75.60 8.40h4.20v4.20h-4.20zM84.00 8.40h12.60v4.20h-12.60zM100.80 8.40h4.20v4.20h-4.20zM0.00 12.60h4.20v4.20h-4.20zM8.40 12.60h12.60v4.20h-12.60zM25.20 12.60h4.20v4.20h-4.20zM37.80 12.60h4.20v4.20h-4.20zM58.80 12.60h4.20v4.20h-4.20zM75.60 12.60h4.20v4.20h-4.20zM84.00 12.60h12.60v4.20h-12.60zM100.80 12.60h4.20v4.20h-4.20zM0.00 16.80h4.20v4.20h-4.20zM8.40 16.80h12.60v4.20h-12.60zM25.20 16.80h4.20v4.20h-4.20zM37.80 16.80h4.20v4.20h-4.20zM50.40 16.80h4.20v4.20h-4.20zM58.80 16.80h12.60v4.20h-12.60zM75.60 16.80h4.20v4.20h-4.20zM84.00 16.80h12.60v4.20h-12.60zM100.80 16.80h4.20v4.20h-4.20zM0.00 21.00h4.20v4.20h-4.20zM25.20 21.00h4.20v4.20h-4.20zM42.00 21.00h16.80v4.20h-16.80zM63.00 21.00h8.40v4.20h-8.40zM75.60 21.00h4.20v4.20h-4.20zM100.80 21.00h4.20v4.20h-4.20zM0.00 25.20h29.40v4.20h-29.40zM33.60 25.20h4.20v4.20h-4.20zM42.00 25.20h4.20v4.20h-4.20zM50.40 25.20h4.20v4.20h-4.20zM58.80 25.20h4.20v4.20h-4.20zM67.20 25.20h4.20v4.20h-4.20zM75.60 25.20h29.40v4.20h-29.40zM33.60 29.40h4.20v4.20h-4.20zM50.40 29.40h12.60v4.20h-12.60zM0.00 33.60h12.60v4.20h-12.60zM16.80 33.60h21.00v4.20h-21.00zM46.20 33.60h12.60v4.20h-12.60zM71.40 33.60h8.40v4.20h-8.40zM92.40 33.60h4.20v4.20h-4.20zM0.00 37.80h4.20v4.20h-4.20zM16.80 37.80h4.20v4.20h-4.20zM33.60 37.80h8.40v4.20h-8.40zM50.40 37.80h12.60v4.20h-12.60zM67.20 37.80h12.60v4.20h-12.60zM100.80 37.80h4.20v4.20h-4.20zM0.00 42.00h8.40v4.20h-8.40zM25.20 42.00h4.20v4.20h-4.20zM33.60 42.00h4.20v4.20h-4.20zM42.00 42.00h21.00v4.20h-21.00zM67.20 42.00h8.40v4.20h-8.40zM92.40 42.00h12.60v4.20h-12.60zM12.60 46.20h12.60v4.20h-12.60zM29.40 46.20h29.40v4.20h-29.40zM63.00 46.20h8.40v4.20h-8.40zM75.60 46.20h8.40v4.20h-8.40zM96.60 46.20h4.20v4.20h-4.20zM8.40 50.40h12.60v4.20h-12.60zM25.20 50.40h4.20v4.20h-4.20zM33.60 50.40h8.40v4.20h-8.40zM46.20 50.40h8.40v4.20h-8.40zM71.40 50.40h12.60v4.20h-12.60zM88.20 50.40h4.20v4.20h-4.20zM96.60 50.40h8.40v4.20h-8.40zM4.20 54.60h4.20v4.20h-4.20zM12.60 54.60h4.20v4.20h-4.20zM21.00 54.60h8.40v4.20h-8.40zM46.20 54.60h8.40v4.20h-8.40zM67.20 54.60h12.60v4.20h-12.60zM88.20 54.60h4.20v4.20h-4.20zM100.80 54.60h4.20v4.20h-4.20zM0.00 58.80h4.20v4.20h-4.20zM12.60 58.80h4.20v4.20h-4.20zM21.00 58.80h8.40v4.20h-8.40zM37.80 58.80h4.20v4.20h-4.20zM58.80 58.80h4.20v4.20h-4.20zM67.20 58.80h4.20v4.20h-4.20zM79.80 58.80h4.20v4.20h-4.20zM92.40 58.80h8.40v4.20h-8.40zM4.20 63.00h4.20v4.20h-4.20zM12.60 63.00h4.20v4.20h-4.20zM37.80 63.00h4.20v4.20h-4.20zM46.20 63.00h21.00v4.20h-21.00zM71.40 63.00h4.20v4.20h-4.20zM84.00 63.00h8.40v4.20h-8.40zM96.60 63.00h4.20v4.20h-4.20zM0.00 67.20h4.20v4.20h-4.20zM16.80 67.20h4.20v4.20h-4.20zM33.60 67.20h8.40v4.20h-8.40zM46.20 67.20h8.40v4.20h-8.40zM67.20 67.20h21.00v4.20h-21.00zM92.40 67.20h4.20v4.20h-4.20zM33.60 71.40h4.20v4.20h-4.20zM46.20 71.40h4.20v4.20h-4.20zM54.60 71.40h8.40v4.20h-8.40zM67.20 71.40h4.20v4.20h-4.20zM84.00 71.40h4.20v4.20h-4.20zM96.60 71.40h8.40v4.20h-8.40zM0.00 75.60h29.40v4.20h-29.40zM33.60 75.60h4.20v4.20h-4.20zM42.00 75.60h4.20v4.20h-4.20zM50.40 75.60h4.20v4.20h-4.20zM63.00 75.60h8.40v4.20h-8.40zM75.60 75.60h4.20v4.20h-4.20zM84.00 75.60h12.60v4.20h-12.60zM0.00 79.80h4.20v4.20h-4.20zM25.20 79.80h4.20v4.20h-4.20zM37.80 79.80h8.40v4.20h-8.40zM54.60 79.80h4.20v4.20h-4.20zM67.20 79.80h4.20v4.20h-4.20zM84.00 79.80h4.20v4.20h-4.20zM92.40 79.80h4.20v4.20h-4.20zM0.00 84.00h4.20v4.20h-4.20zM8.40 84.00h12.60v4.20h-12.60zM25.20 84.00h4.20v4.20h-4.20zM33.60 84.00h4.20v4.20h-4.20zM42.00 84.00h8.40v4.20h-8.40zM54.60 84.00h4.20v4.20h-4.20zM67.20 84.00h21.00v4.20h-21.00zM96.60 84.00h4.20v4.20h-4.20zM0.00 88.20h4.20v4.20h-4.20zM8.40 88.20h12.60v4.20h-12.60zM25.20 88.20h4.20v4.20h-4.20zM37.80 88.20h4.20v4.20h-4.20zM46.20 88.20h8.40v4.20h-8.40zM58.80 88.20h4.20v4.20h-4.20zM71.40 88.20h4.20v4.20h-4.20zM79.80 88.20h8.40v4.20h-8.40zM92.40 88.20h4.20v4.20h-4.20zM0.00 92.40h4.20v4.20h-4.20zM8.40 92.40h12.60v4.20h-12.60zM25.20 92.40h4.20v4.20h-4.20zM33.60 92.40h12.60v4.20h-12.60zM50.40 92.40h4.20v4.20h-4.20zM63.00 92.40h8.40v4.20h-8.40zM79.80 92.40h4.20v4.20h-4.20zM88.20 92.40h4.20v4.20h-4.20zM100.80 92.40h4.20v4.20h-4.20zM0.00 96.60h4.20v4.20h-4.20zM25.20 96.60h4.20v4.20h-4.20zM33.60 96.60h4.20v4.20h-4.20zM42.00 96.60h4.20v4.20h-4.20zM50.40 96.60h8.40v4.20h-8.40zM63.00 96.60h4.20v4.20h-4.20zM71.40 96.60h4.20v4.20h-4.20zM84.00 96.60h8.40v4.20h-8.40zM96.60 96.60h8.40v4.20h-8.40zM0.00 100.80h29.40v4.20h-29.40zM33.60 100.80h4.20v4.20h-4.20zM46.20 100.80h8.40v4.20h-8.40zM58.80 100.80h4.20v4.20h-4.20zM67.20 100.80h8.40v4.20h-8.40zM79.80 100.80h4.20v4.20h-4.20zM96.60 100.80h4.20v4.20h-4.20z"/></svg>
</body></html>
